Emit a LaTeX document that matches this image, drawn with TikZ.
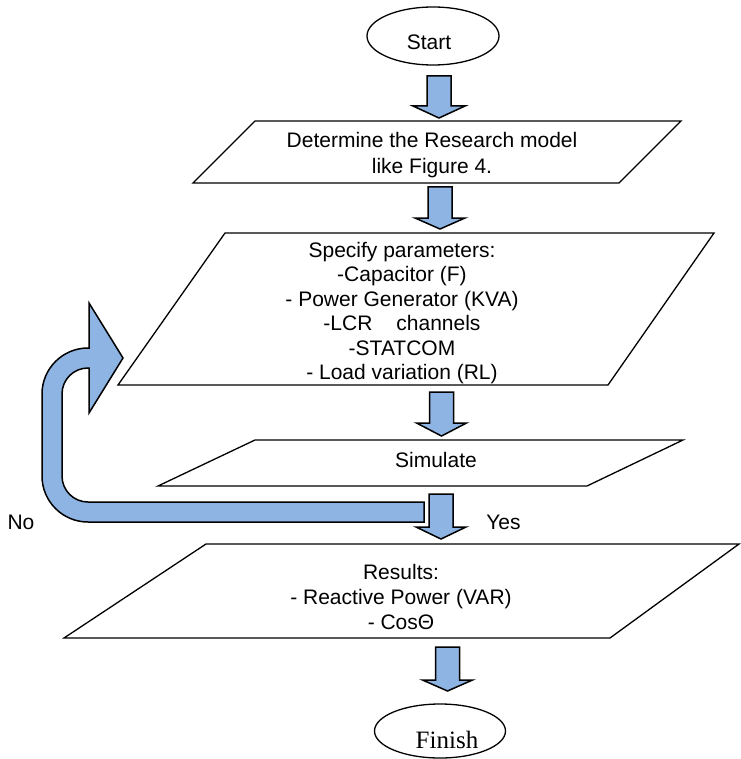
\documentclass[tikz,border=0pt]{standalone}
\usepackage{fontspec}
\setmainfont{Liberation Sans}
\newfontfamily\serifF{Liberation Serif}
\definecolor{arrowblue}{RGB}{142,180,227}
\tikzset{
  shapebox/.style={draw=black, line width=1.3pt, fill=white, line join=miter},
  barrow/.style={draw=black, line width=1.5pt, fill=arrowblue, line join=miter},
  txt/.style={inner sep=0pt, font=\fontsize{21}{24.4}\selectfont, align=center},
}
\newcommand\blkarrow[5]{%
  \draw[barrow] (#1-12,#2) -- (#1+12,#2) -- (#1+12,#3) -- (#1+#5,#3) -- (#1,#4) -- (#1-#5,#3) -- (#1-12,#3) -- cycle;}
\begin{document}
\begin{tikzpicture}[x=1pt,y=-1pt]
\useasboundingbox (0,0) rectangle (740,759);
% Start
\draw[shapebox] (433,36) ellipse [x radius=66, y radius=29];
\node[txt, anchor=base] (start) at (429,49.5) {Start};
% Box 1
\draw[shapebox] (193,183) -- (255,121) -- (681,121) -- (619,183) -- cycle;
\node[txt, font=\fontsize{21}{26.5}\selectfont] (model) at (432,155.3) {Determine the Research model\\like Figure 4.};
% Box 2
\draw[shapebox] (118,385) -- (225,233) -- (714,233) -- (608,385) -- cycle;
\node[txt] (params) at (402,313) {Specify parameters:\\-Capacitor (F)\\- Power Generator (KVA)\\-LCR\hspace{24pt}channels\\-STATCOM\\- Load variation (RL)};
% Simulate
\draw[shapebox] (158,486) -- (255,440) -- (683,440) -- (587,486) -- cycle;
\node[txt, anchor=base] (sim) at (436,467.5) {Simulate};
% Results
\draw[shapebox] (64,638) -- (206,544) -- (739,544) -- (610,638) -- cycle;
\node[txt, font=\fontsize{21}{25}\selectfont] (res) at (401,597) {Results:\\- Reactive Power (VAR)\\- Cos\char"0398};
% Finish
\draw[shapebox] (440,731) ellipse [x radius=65.5, y radius=27];
\node[inner sep=0pt, anchor=base, font=\serifF\fontsize{25}{30}\selectfont] (finish) at (447,748) {Finish};
% block arrows
\blkarrow{439}{76}{106}{118}{26}
\blkarrow{440}{187}{218}{229}{25}
\blkarrow{441.5}{392}{423}{436}{25}
\blkarrow{441}{494}{527}{539}{25}
\blkarrow{447.5}{647}{680}{691}{25}
% loop arrow (No)
\draw[barrow] (424,502) -- (424,522) -- (88,522)
  .. controls (62.6,522) and (42,501.4) .. (42,476) -- (42,394)
  .. controls (42,368.6) and (62.6,348) .. (88,348) -- (89,348) -- (89,303)
  -- (123,358) -- (89,413) -- (89,368) -- (88,368)
  .. controls (73.6,368) and (62,379.6) .. (62,394) -- (62,476)
  .. controls (62,490.4) and (73.6,502) .. (88,502) -- cycle;
% labels
\node[txt, anchor=base] (yes) at (503.5,529.5) {Yes};
\node[txt, anchor=base] (no) at (21,529.5) {No};
\end{tikzpicture}
\end{document}
